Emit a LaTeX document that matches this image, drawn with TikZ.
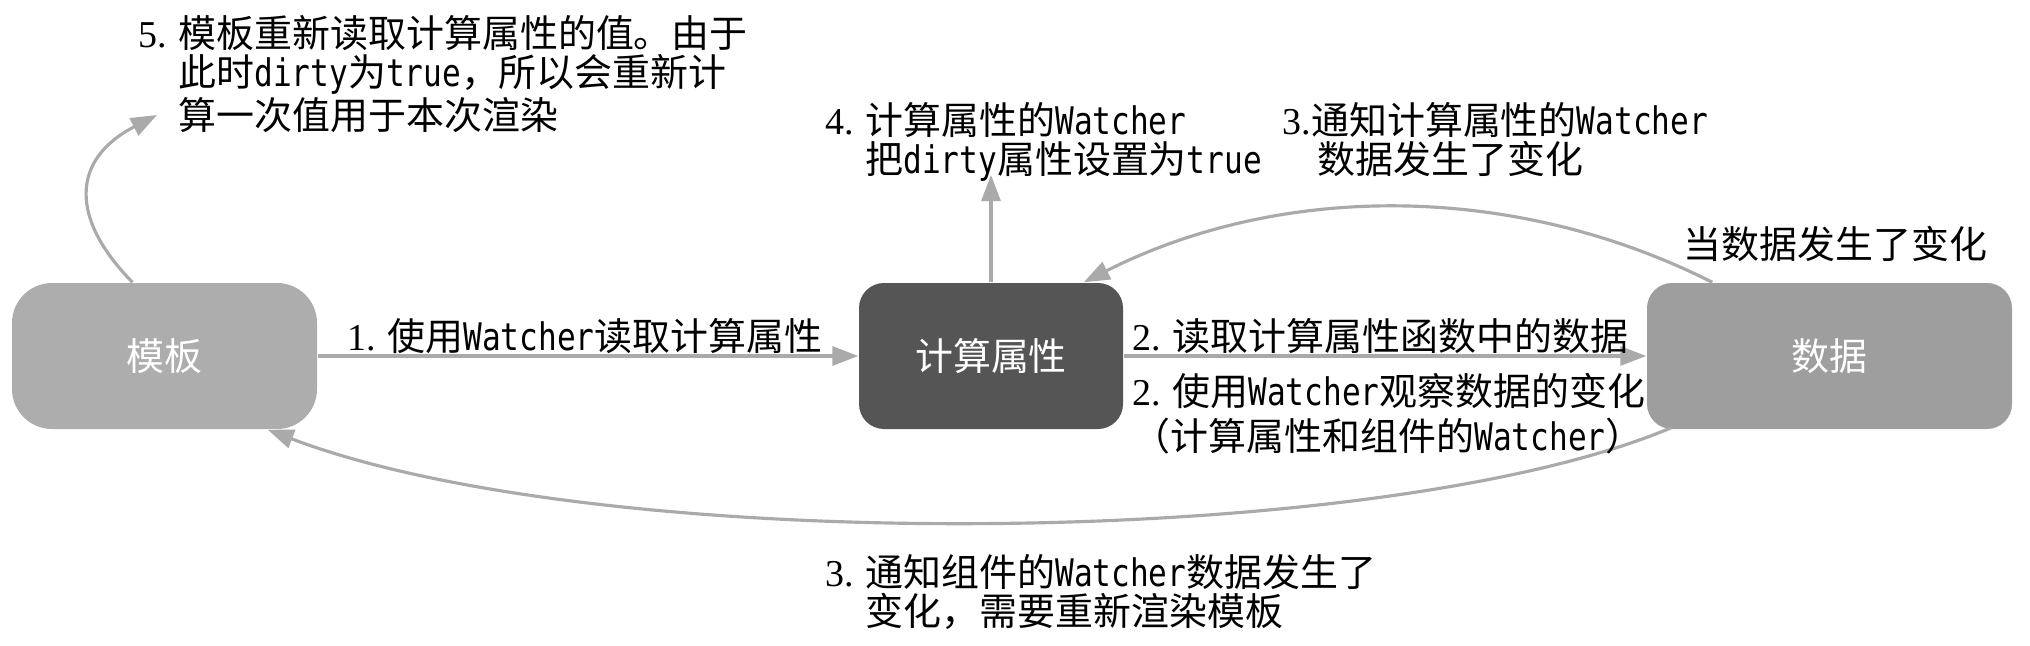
\documentclass[tikz,border=0pt]{standalone}
\usepackage{fontspec}
\setmainfont{Noto Sans CJK SC}
\newfontfamily\numfont{Liberation Serif}
\newfontfamily\codefont[FakeStretch=0.82]{DejaVu Sans Mono}
\newcommand{\nr}[1]{{\numfont #1}}
\newcommand{\kw}[1]{{\codefont #1}}
\usetikzlibrary{arrows.meta}
\definecolor{TplGray}{RGB}{173,173,173}
\definecolor{CompDark}{RGB}{85,85,85}
\definecolor{DataGray}{RGB}{158,158,158}
\definecolor{FlowGray}{RGB}{170,170,170}

\begin{document}
\begin{tikzpicture}[x=0.1mm, y=-0.1mm,
    box/.style={rounded corners=2.5mm, minimum height=14.6mm, text=white, font=\fontsize{10.8}{11}\selectfont},
    flow/.style={draw=FlowGray, line width=0.9pt, -{Triangle[length=2.6mm,width=1.9mm]}},
    note/.style={anchor=north west, inner sep=0pt, align=left, font=\fontsize{10.8}{11}\selectfont}]
    \useasboundingbox (0,0) rectangle (2030,646);

    % Boxes
    \node[box, fill=TplGray, minimum width=30.5mm, rounded corners=4mm] (tpl) at (164.5,356) {模板};
    \node[box, fill=CompDark, minimum width=26.4mm] (comp) at (991,356) {计算属性};
    \node[box, fill=DataGray, minimum width=36.5mm] (data) at (1829.5,356) {数据};

    % Free arrow ends
    \coordinate (dirtytip) at (991,175);
    \coordinate (rereadtip) at (157,115);

    % Arrows
    \draw[flow] (tpl) -- (comp);
    \draw[flow] (comp) -- (data);
    \draw[flow] (comp.north) -- (dirtytip);
    \draw[flow] ([xshift=-3.2mm]tpl.north) .. controls +(-62,-63) and +(-87,45) .. (rereadtip);
    \draw[flow] ([xshift=6.6mm]data.north west) .. controls +(-198,-100) and +(198,-100) .. ([xshift=-4mm]comp.north east);
    \draw[flow] ([xshift=2.5mm,yshift=0.2mm]data.south west) .. controls +(-292,123) and +(333,127) .. ([xshift=-5mm]tpl.south east);

    % Labels
    \node[note] (lab5) at (138,15) {\nr{5.} 模板重新读取计算属性的值。由于\\
        \phantom{\nr{5.} }此时\kw{dirty}为\kw{true}，所以会重新计\\
        \phantom{\nr{5.} }算一次值用于本次渲染};
    \node[note] (lab4) at (825,102) {\nr{4.} 计算属性的\kw{Watcher}\\
        \phantom{\nr{4.} }把\kw{dirty}属性设置为\kw{true}};
    \node[note] (lab3a) at (1282,102) {\nr{3.}通知计算属性的\kw{Watcher}\\
        \phantom{\nr{3.}}\,数据发生了变化};
    \node[note] (labchange) at (1683,226) {当数据发生了变化};
    \node[note] (lab1) at (347,318) {\nr{1.} 使用\kw{Watcher}读取计算属性};
    \node[note] (lab2a) at (1132,318) {\nr{2.} 读取计算属性函数中的数据};
    \node[note] (lab2b) at (1132,373) {\nr{2.} 使用\kw{Watcher}观察数据的变化\\[0.6mm]
        （计算属性和组件的\kw{Watcher}）};
    \node[note] (lab3b) at (825,554) {\nr{3.} 通知组件的\kw{Watcher}数据发生了\\
        \phantom{\nr{3.} }变化，需要重新渲染模板};
\end{tikzpicture}
\end{document}
